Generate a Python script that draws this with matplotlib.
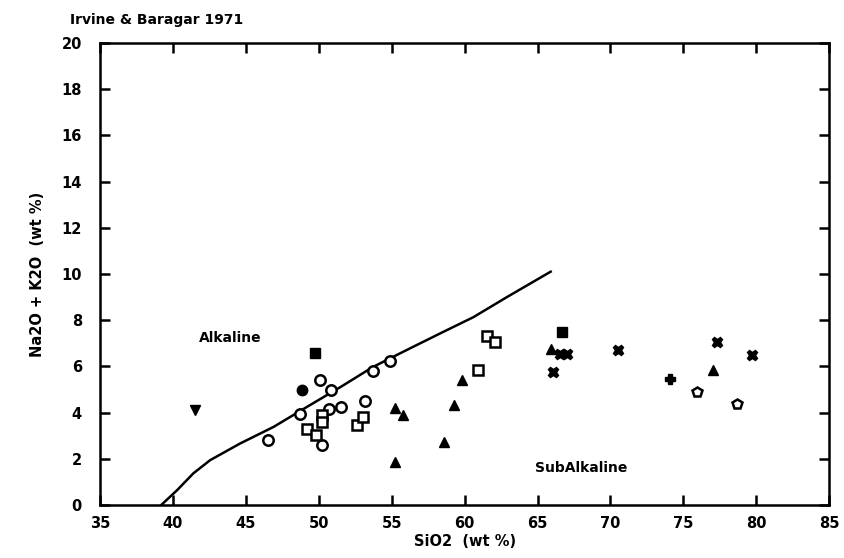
import matplotlib
matplotlib.use('Agg')
import matplotlib.pyplot as plt

# Irvine & Baragar (1971) alkaline / subalkaline divide
line_x = [39.2, 40.3, 41.4, 42.55, 44.6, 46.9, 49.2, 51.5, 53.7, 56.0, 58.3, 60.6, 62.9, 65.9]
line_y = [0.0, 0.65, 1.37, 1.94, 2.66, 3.38, 4.25, 5.11, 5.97, 6.7, 7.42, 8.13, 9.0, 10.1]

circle_x = [46.5, 50.1, 50.85, 48.7, 50.7, 51.5, 53.2, 53.7, 54.85, 50.2]
circle_y = [2.8, 5.43, 4.97, 3.92, 4.16, 4.25, 4.49, 5.79, 6.23, 2.6]

square_x = [49.2, 49.8, 50.25, 50.25, 52.6, 53.0, 61.55, 62.1, 60.9]
square_y = [3.27, 3.02, 3.89, 3.6, 3.45, 3.8, 7.3, 7.05, 5.83]

tri_x = [59.8, 59.3, 55.2, 55.75, 58.6, 55.2, 65.9, 77.0]
tri_y = [5.43, 4.32, 4.18, 3.89, 2.73, 1.87, 6.77, 5.83]

cross_x = [66.55, 67.0, 66.05, 70.55, 77.3, 79.7]
cross_y = [6.55, 6.55, 5.76, 6.7, 7.05, 6.5]

bar_x = [49.75, 66.7]
bar_y = [6.6, 7.49]

shield_x = [41.5]
shield_y = [4.1]

dot_x = [48.85]
dot_y = [4.97]

plus_x = [74.1]
plus_y = [5.47]

house_x = [75.9, 78.7]
house_y = [4.9, 4.39]

plt.rcParams['font.family'] = ['DejaVu Sans']
plt.rcParams['font.weight'] = 'bold'
plt.rcParams['axes.labelweight'] = 'bold'

fig = plt.figure(figsize=(8.44, 5.58), dpi=100)
ax = fig.add_axes([0.1185, 0.095, 0.864, 0.828])

ax.plot(line_x, line_y, color='black', linewidth=1.8)

ax.plot(circle_x, circle_y, 'o', ms=7.5, mfc='white', mec='black', mew=1.8, ls='none')
ax.plot(square_x, square_y, 's', ms=7, mfc='white', mec='black', mew=1.8, ls='none')
ax.plot(tri_x, tri_y, '^', ms=7.5, color='black', ls='none')
ax.plot(cross_x, cross_y, 'X', ms=7.5, color='black', ls='none')
ax.plot(bar_x, bar_y, 's', ms=6.5, color='black', ls='none')
ax.plot(shield_x, shield_y, 'v', ms=7.5, color='black', ls='none')
ax.plot(dot_x, dot_y, 'o', ms=7.5, mfc='black', mec='black', ls='none')
ax.plot(plus_x, plus_y, 'P', ms=7.5, color='black', ls='none')
ax.plot(house_x, house_y, 'p', ms=7.5, mfc='white', mec='black', mew=1.8, ls='none')

ax.text(43.9, 7.25, 'Alkaline', fontsize=10, ha='center', va='center')
ax.text(68.0, 1.6, 'SubAlkaline', fontsize=10, ha='center', va='center')

ax.set_xlim(35, 85)
ax.set_ylim(0, 20)
ax.set_xticks(range(35, 90, 5))
ax.set_yticks(range(0, 22, 2))
ax.tick_params(direction='in', length=7, width=1.8, top=True, right=True,
               labelsize=10.5)
ax.tick_params(axis='x', pad=8)
ax.tick_params(axis='y', pad=13)
for s in ax.spines.values():
    s.set_linewidth(1.8)

ax.set_xlabel('SiO2  (wt %)', fontsize=10.5, labelpad=2)
ax.set_ylabel('Na2O + K2O  (wt %)', fontsize=10.5, labelpad=12)
fig.text(0.083, 0.964, 'Irvine & Baragar 1971', fontsize=10, ha='left', va='center')

fig.savefig('out.png', dpi=100)
